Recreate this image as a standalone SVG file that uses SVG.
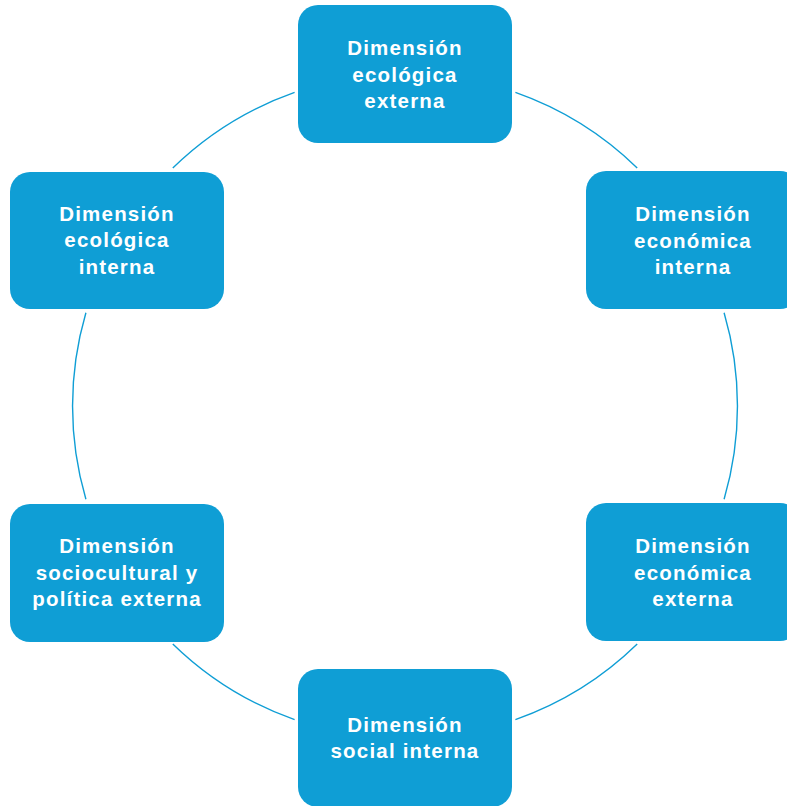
<svg xmlns="http://www.w3.org/2000/svg" width="787" height="806" viewBox="0 0 787 806">
  <style>
    .box { fill: #0F9ED5; }
    .lbl { fill: #FFFFFF; font-family: "Liberation Sans", Arial, sans-serif; font-weight: bold; font-size: 20.5px; letter-spacing: 1.2px; text-anchor: middle; }
    .arc { fill: none; stroke: #0F9ED5; stroke-width: 1.4; }
  </style>
  <rect width="787" height="806" fill="#FFFFFF"/>

  <!-- ring segments between the nodes (centre 405,406, r 332.5) -->
  <g id="connectors">
    <path class="arc" d="M294.6 92.4 A332.5 332.5 0 0 0 172.8 168"/>
    <path class="arc" d="M85.9 312.7 A332.5 332.5 0 0 0 85.9 499.3"/>
    <path class="arc" d="M172.8 644 A332.5 332.5 0 0 0 294.6 719.6"/>
    <path class="arc" d="M515.4 719.6 A332.5 332.5 0 0 0 637.2 644"/>
    <path class="arc" d="M724.1 499.3 A332.5 332.5 0 0 0 724.1 312.7"/>
    <path class="arc" d="M637.2 168 A332.5 332.5 0 0 0 515.4 92.4"/>
  </g>

  <g id="eco-externa">
    <rect class="box" x="298" y="5" width="214" height="138" rx="20"/>
    <text class="lbl" x="405" y="55">Dimensión</text>
    <text class="lbl" x="405" y="81.5">ecológica</text>
    <text class="lbl" x="405" y="108">externa</text>
  </g>

  <g id="economica-interna">
    <rect class="box" x="586" y="171" width="214" height="138" rx="20"/>
    <text class="lbl" x="693" y="221">Dimensión</text>
    <text class="lbl" x="693" y="247.5">económica</text>
    <text class="lbl" x="693" y="274">interna</text>
  </g>

  <g id="economica-externa">
    <rect class="box" x="586" y="503" width="214" height="138" rx="20"/>
    <text class="lbl" x="693" y="553">Dimensión</text>
    <text class="lbl" x="693" y="579.5">económica</text>
    <text class="lbl" x="693" y="606">externa</text>
  </g>

  <g id="social-interna">
    <rect class="box" x="298" y="669" width="214" height="138" rx="20"/>
    <text class="lbl" x="405" y="731.7">Dimensión</text>
    <text class="lbl" x="405" y="758.2">social interna</text>
  </g>

  <g id="sociocultural-externa">
    <rect class="box" x="10" y="504" width="214" height="138" rx="20"/>
    <text class="lbl" x="117" y="553">Dimensión</text>
    <text class="lbl" x="117" y="579.5">sociocultural y</text>
    <text class="lbl" x="117" y="606">política externa</text>
  </g>

  <g id="eco-interna">
    <rect class="box" x="10" y="172" width="214" height="137" rx="20"/>
    <text class="lbl" x="117" y="220.5">Dimensión</text>
    <text class="lbl" x="117" y="247">ecológica</text>
    <text class="lbl" x="117" y="273.5">interna</text>
  </g>
</svg>
